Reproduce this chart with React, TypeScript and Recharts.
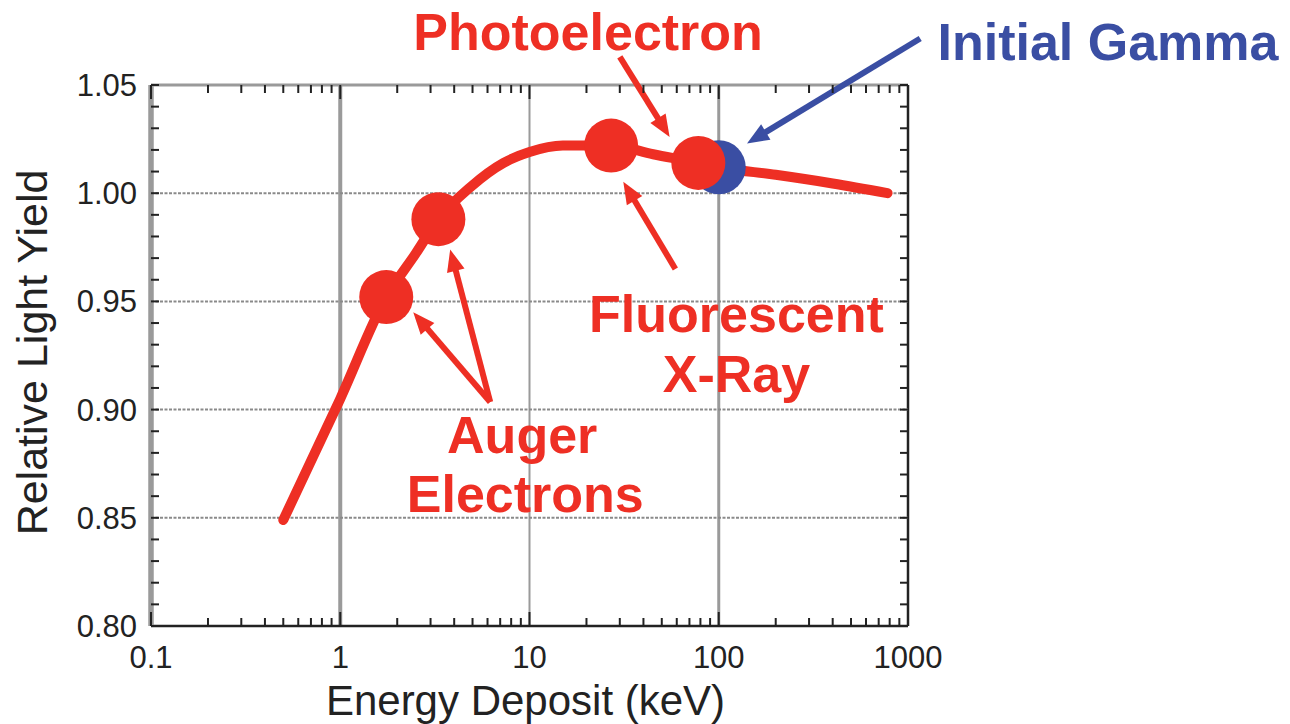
import React from 'react'
import {
  ComposedChart,
  Line,
  Scatter,
  XAxis,
  YAxis,
  ReferenceLine,
  ReferenceDot,
  Label,
} from 'recharts'

const ENERGY_KEV = [0.5, 1, 1.75, 2.5, 3.3, 4.9, 7.3, 10, 15, 27, 45, 78, 100, 200, 400, 780]
const LIGHT_YIELD = [0.849, 0.905, 0.952, 0.972, 0.988, 1.003, 1.014, 1.019, 1.022, 1.022, 1.018, 1.014, 1.012, 1.0085, 1.0045, 1.0]

// cascade steps marked with dots
const STEP_KEV = [1.75, 3.3, 27, 78]
const STEP_YIELD = [0.952, 0.988, 1.022, 1.014]
const GAMMA_KEV = [100]
const GAMMA_YIELD = [1.012]

const X_LABELS = [0.1, 1, 10, 100, 1000]
const X_TICKS = [
  0.1, 0.2, 0.3, 0.4, 0.5, 0.6, 0.7, 0.8, 0.9,
  1, 2, 3, 4, 5, 6, 7, 8, 9,
  10, 20, 30, 40, 50, 60, 70, 80, 90,
  100, 200, 300, 400, 500, 600, 700, 800, 900,
  1000,
]
const Y_LABELS = [0.8, 0.85, 0.9, 0.95, 1.0, 1.05]
const Y_TICKS = [
  0.8, 0.81, 0.82, 0.83, 0.84, 0.85, 0.86, 0.87, 0.88, 0.89, 0.9, 0.91, 0.92,
  0.93, 0.94, 0.95, 0.96, 0.97, 0.98, 0.99, 1.0, 1.01, 1.02, 1.03, 1.04, 1.05,
]

const curve = ENERGY_KEV.map((x, i) => ({ x, y: LIGHT_YIELD[i] }))
const steps = STEP_KEV.map((x, i) => ({ x, y: STEP_YIELD[i] }))
const gamma = GAMMA_KEV.map((x, i) => ({ x, y: GAMMA_YIELD[i] }))

const FONT = '"Liberation Sans", Arial, Helvetica, sans-serif'
const RED = '#ee2f24'
const BLUE = '#3a4ea3'
const GRID = '#9a9a9a'
const INK = '#222'

const CHART_W = 1290
const CHART_H = 724
const MARGIN = { top: 85, right: 382, bottom: 0, left: 0 }
const Y_AXIS_W = 151
const X_AXIS_H = 98
const PLOT_W = CHART_W - MARGIN.left - MARGIN.right - Y_AXIS_W
const PLOT_H = CHART_H - MARGIN.top - MARGIN.bottom - X_AXIS_H

// ticks point inward, drawn on both opposite sides of the frame
function XTick({ x, y, payload }: any) {
  const v = payload.value
  const major = X_LABELS.includes(v)
  const len = major ? 14 : 8
  return (
    <g>
      <line x1={x} x2={x} y1={y} y2={y - len} stroke={INK} strokeWidth={2} />
      <line x1={x} x2={x} y1={y - PLOT_H} y2={y - PLOT_H + len} stroke={INK} strokeWidth={2} />
      {major && (
        <text x={x} y={y + 42} textAnchor="middle" fontSize={31} fill={INK} fontFamily={FONT}>
          {String(v)}
        </text>
      )}
    </g>
  )
}

function YTick({ x, y, payload }: any) {
  const v = payload.value
  const major = Y_LABELS.includes(v)
  return (
    <g>
      <line x1={x} x2={x + 8} y1={y} y2={y} stroke={INK} strokeWidth={2} />
      <line x1={x + PLOT_W} x2={x + PLOT_W - 8} y1={y} y2={y} stroke={INK} strokeWidth={2} />
      {major && (
        <text x={x - 14} y={y + 11} textAnchor="end" fontSize={31} fill={INK} fontFamily={FONT}>
          {v.toFixed(2)}
        </text>
      )}
    </g>
  )
}

function YTitle() {
  const cx = 47
  const cy = MARGIN.top + PLOT_H / 2 - 3
  return (
    <text
      x={cx}
      y={cy}
      transform={`rotate(-90 ${cx} ${cy})`}
      textAnchor="middle"
      fontSize={43}
      fill={INK}
      fontFamily={FONT}
    >
      Relative Light Yield
    </text>
  )
}

const textShape = (text: string, color: string) => (p: any) => (
  <text x={p.cx} y={p.cy} textAnchor="middle" fill={color} fontSize={52} fontWeight="bold" fontFamily={FONT}>
    {text}
  </text>
)

const arrowShape = (color: string) => (p: any) => {
  const { x1, y1, x2, y2 } = p
  const dx = x2 - x1
  const dy = y2 - y1
  const len = Math.hypot(dx, dy) || 1
  const ux = dx / len
  const uy = dy / len
  const head = 22
  const half = 9
  const bx = x2 - ux * head
  const by = y2 - uy * head
  return (
    <g>
      <line x1={x1} y1={y1} x2={bx + ux * 3} y2={by + uy * 3} stroke={color} strokeWidth={6} />
      <polygon
        points={`${x2},${y2} ${bx - uy * half},${by + ux * half} ${bx + uy * half},${by - ux * half}`}
        fill={color}
      />
    </g>
  )
}

// annotations, placed in data coordinates
const NOTES = [
  { x: 20.4, y: 1.066, text: 'Photoelectron', color: RED },
  { x: 11400, y: 1.0615, text: 'Initial Gamma', color: BLUE },
  { x: 124, y: 0.936, text: 'Fluorescent', color: RED },
  { x: 124, y: 0.908, text: 'X-Ray', color: RED },
  { x: 9.15, y: 0.88, text: 'Auger', color: RED },
  { x: 9.5, y: 0.8525, text: 'Electrons', color: RED },
]

const ARROWS = [
  { from: { x: 30, y: 1.063 }, to: { x: 55, y: 1.026 }, color: RED },
  { from: { x: 1160, y: 1.0715 }, to: { x: 141, y: 1.023 }, color: BLUE },
  { from: { x: 59, y: 0.965 }, to: { x: 31.3, y: 1.0053 }, color: RED },
  { from: { x: 6.2, y: 0.9035 }, to: { x: 2.43, y: 0.945 }, color: RED },
  { from: { x: 6.2, y: 0.9035 }, to: { x: 3.81, y: 0.974 }, color: RED },
]

export default function App() {
  return (
    <div style={{ position: 'absolute', left: 0, top: 0, width: CHART_W, height: CHART_H, background: '#fff' }}>
      <ComposedChart width={CHART_W} height={CHART_H} margin={MARGIN}>
        <XAxis
          dataKey="x"
          type="number"
          scale="log"
          domain={[0.1, 1000]}
          allowDataOverflow
          ticks={X_TICKS}
          interval={0}
          height={X_AXIS_H}
          tickSize={0}
          tickMargin={0}
          tickLine={false}
          tick={<XTick />}
          axisLine={{ stroke: INK, strokeWidth: 2.5 }}
        >
          <Label
            value="Energy Deposit (keV)"
            position="insideBottom"
            offset={9}
            dx={-4}
            fontSize={42}
            fill={INK}
            fontFamily={FONT}
          />
        </XAxis>
        <YAxis
          dataKey="y"
          type="number"
          domain={[0.8, 1.05]}
          allowDataOverflow
          ticks={Y_TICKS}
          interval={0}
          width={Y_AXIS_W}
          tickSize={0}
          tickMargin={0}
          tickLine={false}
          tick={<YTick />}
          axisLine={{ stroke: GRID, strokeWidth: 5 }}
        >
          <Label content={<YTitle />} />
        </YAxis>

        {/* frame */}
        <ReferenceLine x={0.1} stroke={GRID} strokeWidth={5} ifOverflow="visible" />
        <ReferenceLine y={1.05} stroke={GRID} strokeWidth={3} ifOverflow="visible" />
        <ReferenceLine x={1000} stroke={INK} strokeWidth={2.5} ifOverflow="visible" />

        {/* grid */}
        <ReferenceLine x={1} stroke={GRID} strokeWidth={4} />
        <ReferenceLine x={10} stroke={GRID} strokeWidth={2} />
        <ReferenceLine x={100} stroke={GRID} strokeWidth={3} />
        {[0.85, 0.9, 0.95, 1.0].map((v) => (
          <ReferenceLine key={v} y={v} stroke="#8a8a8a" strokeWidth={2} strokeDasharray="3 1.5" />
        ))}

        <Line
          data={curve}
          dataKey="y"
          type="monotone"
          stroke={RED}
          strokeWidth={10}
          strokeLinecap="round"
          dot={false}
          activeDot={false}
          isAnimationActive={false}
        />
        <Scatter
          data={gamma}
          dataKey="y"
          fill={BLUE}
          shape={(p: any) => <circle cx={p.cx} cy={p.cy} r={27} fill={BLUE} />}
          isAnimationActive={false}
        />
        <Scatter
          data={steps}
          dataKey="y"
          fill={RED}
          shape={(p: any) => <circle cx={p.cx} cy={p.cy} r={27} fill={RED} />}
          isAnimationActive={false}
        />

        {ARROWS.map((a, i) => (
          <ReferenceLine key={'a' + i} segment={[a.from, a.to]} ifOverflow="visible" shape={arrowShape(a.color)} />
        ))}
        {NOTES.map((n) => (
          <ReferenceDot key={n.text} x={n.x} y={n.y} r={0} ifOverflow="visible" shape={textShape(n.text, n.color)} />
        ))}
      </ComposedChart>
    </div>
  )
}
